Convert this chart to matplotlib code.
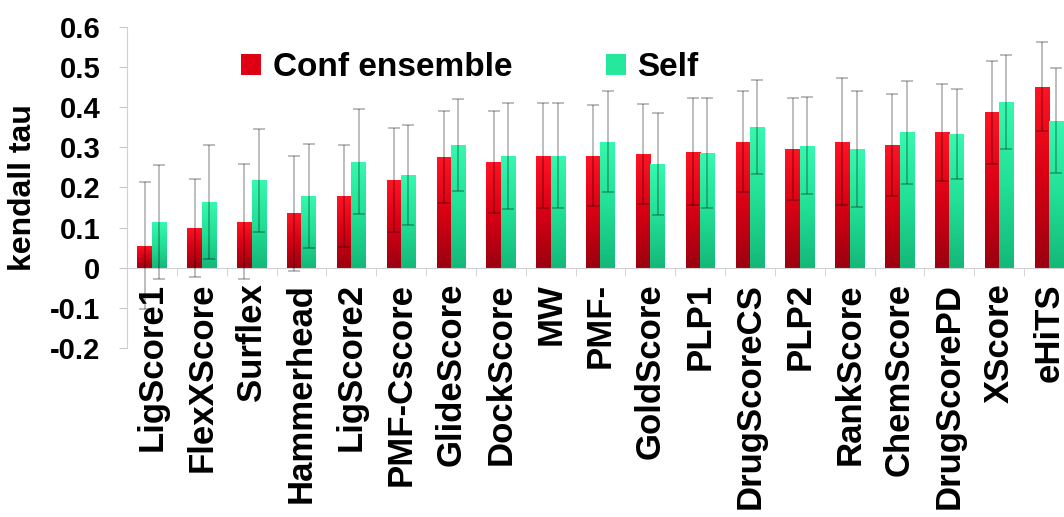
import numpy as np
import matplotlib
matplotlib.use("Agg")
import matplotlib.pyplot as plt
from matplotlib.patches import Patch
from matplotlib.colors import LinearSegmentedColormap
from matplotlib.ticker import FuncFormatter, MultipleLocator, FixedLocator

# data
methods = ["LigScore1", "FlexXScore", "Surflex", "Hammerhead", "LigScore2",
           "PMF-Cscore", "GlideScore", "DockScore", "MW", "PMF-", "GoldScore",
           "PLP1", "DrugScoreCS", "PLP2", "RankScore", "ChemScore",
           "DrugScorePD", "XScore", "eHiTS"]
conf_vals = [0.055, 0.100, 0.114, 0.135, 0.179, 0.218, 0.275, 0.262, 0.279,
             0.279, 0.283, 0.289, 0.314, 0.296, 0.314, 0.305, 0.337, 0.387, 0.451]
conf_err = [0.158, 0.122, 0.143, 0.144, 0.127, 0.129, 0.115, 0.127, 0.130,
            0.125, 0.125, 0.133, 0.125, 0.127, 0.158, 0.127, 0.120, 0.128, 0.110]
self_vals = [0.114, 0.164, 0.218, 0.179, 0.264, 0.231, 0.305, 0.279, 0.279,
             0.314, 0.257, 0.285, 0.350, 0.304, 0.296, 0.337, 0.332, 0.412, 0.366]
self_err = [0.142, 0.142, 0.128, 0.130, 0.130, 0.125, 0.115, 0.132, 0.130,
            0.125, 0.127, 0.137, 0.118, 0.120, 0.144, 0.128, 0.112, 0.117, 0.130]

plt.rcParams['font.family'] = ['Liberation Sans', 'DejaVu Sans']
plt.rcParams['font.weight'] = 'bold'
plt.rcParams['axes.labelweight'] = 'bold'

red_cmap = LinearSegmentedColormap.from_list("red", ["#9a0010", "#d80014", "#ff1424"])
green_cmap = LinearSegmentedColormap.from_list("green", ["#14b878", "#22e096", "#36f8ae"])

fig = plt.figure(figsize=(10.64, 5.17), dpi=100)
ax = fig.add_axes([127 / 1064, 1 - 348 / 517, 1 - 127 / 1064, (348 - 26.7) / 517])

x = np.arange(len(methods))
w = 0.29

bars1 = ax.bar(x - w / 2, conf_vals, w, color="none", edgecolor="none", label="Conf ensemble")
bars2 = ax.bar(x + w / 2, self_vals, w, color="none", edgecolor="none", label="Self")

# vertical gradient inside every bar
grad = np.linspace(0, 1, 256).reshape(-1, 1)
for bars, cmap in [(bars1, red_cmap), (bars2, green_cmap)]:
    for b in bars:
        x0, y0 = b.get_x(), b.get_y()
        bw, bh = b.get_width(), b.get_height()
        im = ax.imshow(grad, cmap=cmap, aspect="auto", origin="lower",
                       extent=[x0, x0 + bw, y0, y0 + bh], zorder=2)
        im.set_clip_path(b)

ax.errorbar(x - w / 2, conf_vals, yerr=conf_err, fmt="none", ecolor="black",
            alpha=0.33, elinewidth=1.1, capsize=4, capthick=1.1, zorder=3)
ax.errorbar(x + w / 2, self_vals, yerr=self_err, fmt="none", ecolor="black",
            alpha=0.33, elinewidth=1.1, capsize=4, capthick=1.1, zorder=3)

ax.set_xlim(-0.5, 18.3)
ax.set_ylim(-0.2, 0.6)

for s in ["top", "right"]:
    ax.spines[s].set_visible(False)
ax.spines["bottom"].set_position(("data", 0))
ax.spines["bottom"].set_color("#d0d0d0")
ax.spines["left"].set_color("#d0d0d0")

ax.yaxis.set_major_locator(MultipleLocator(0.1))
ax.yaxis.set_major_formatter(FuncFormatter(lambda v, p: "%g" % round(v, 1)))
ax.tick_params(axis="y", direction="out", length=6, color="#c8c8c8",
               labelsize=21, pad=13)

ax.set_xticks(x)
ax.set_xticklabels(methods, rotation=90, fontsize=25)
ax.xaxis.set_minor_locator(FixedLocator(x[:-1] + 0.5))
ax.tick_params(axis="x", which="major", length=0, pad=11)
ax.tick_params(axis="x", which="minor", direction="out", length=6, color="#d0d0d0")

ax.set_ylabel("kendall tau", fontsize=23, fontweight="bold")
ax.yaxis.set_label_coords(-0.095, 0.5)

handles = [Patch(facecolor="#e00014"), Patch(facecolor="#26e89c")]
ax.legend(handles, ["Conf ensemble", "Self"], ncol=2, frameon=False,
          fontsize=24, loc="center left", bbox_to_anchor=(241 / 1064, 1 - 68 / 517),
          bbox_transform=fig.transFigure, borderpad=0, borderaxespad=0,
          handlelength=0.6, handleheight=0.6, handletextpad=0.35, columnspacing=2.8)

fig.savefig("out.png", dpi=100)
